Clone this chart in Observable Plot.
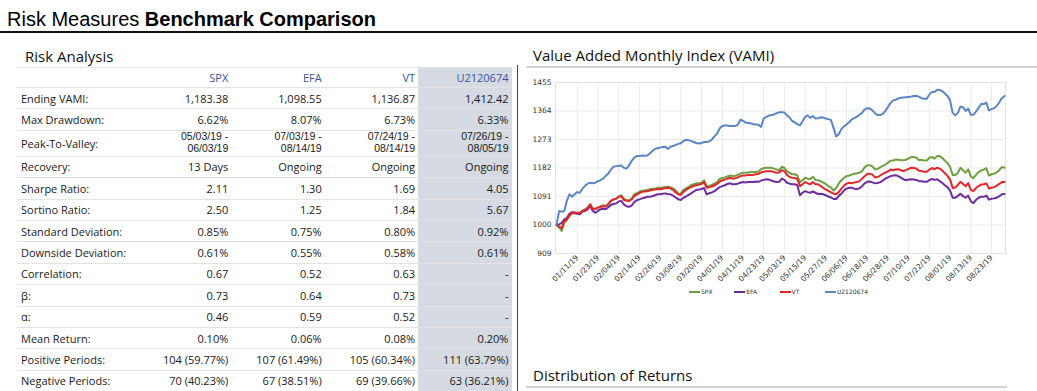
<!DOCTYPE html>
<html><head><meta charset="utf-8">
<script src="https://cdn.jsdelivr.net/npm/d3@7"></script>
<script src="https://cdn.jsdelivr.net/npm/@observablehq/plot@0.6"></script>
<style>
html,body{margin:0;padding:0;width:1037px;height:391px;overflow:hidden;background:#fff;font-family:"Open Sans",sans-serif;}
.abs{position:absolute;}
#title{left:7px;top:7px;font-family:"Liberation Sans",Arial,sans-serif;font-size:20px;line-height:24px;color:#000;white-space:nowrap;}
#rule{left:0;top:31px;width:1037px;height:2px;background:#111;}
.h2{font-size:15px;line-height:20px;color:#111;white-space:nowrap;}
#tbl{left:17px;top:67px;width:495px;border-top:1px solid #e3e3e3;font-size:11px;color:#1a1a1a;}
.row{display:flex;box-sizing:border-box;border-bottom:1px solid #e3e3e3;}
.cell{display:flex;align-items:center;box-sizing:border-box;}
.lab{width:121.3px;padding-left:4px;}
.val{width:93.4px;justify-content:flex-end;padding-right:3.4px;text-align:right;}
.hl{background:#d5dae3;}
.hdr .val{color:#34559a;}
.two{display:flex;flex-direction:column;align-items:flex-end;}
.ln{height:11.8px;line-height:11.8px;font-family:"Liberation Sans",Arial,sans-serif;font-size:10.5px;white-space:nowrap;}
#legend{left:689px;top:288px;display:flex;font-family:"DejaVu Sans",sans-serif;font-size:6px;color:#333;}
.li{width:45.3px;display:flex;align-items:center;white-space:nowrap;}
.sw{width:11px;height:2px;margin-right:1px;}
</style></head>
<body>
<div id="title" class="abs">Risk Measures <b>Benchmark Comparison</b></div>
<div id="rule" class="abs"></div>
<div class="abs h2" style="left:25px;top:46px;">Risk Analysis</div>
<div class="abs h2" style="left:533px;top:45px;">Value Added Monthly Index (VAMI)</div>
<div class="abs" style="left:526px;top:66px;width:511px;height:1.5px;background:#d2d2d2;"></div>
<div class="abs h2" style="left:533px;top:365px;">Distribution of Returns</div>
<div class="abs" style="left:526px;top:386px;width:481px;height:1.5px;background:#d2d2d2;"></div>
<div class="abs" style="left:517px;top:65px;width:1px;height:326px;background:#444;"></div>
<div id="tbl" class="abs"></div>
<div id="chart" class="abs" style="left:520px;top:70px;"></div>
<div id="legend" class="abs"></div>
<script>
// ---- Table data ----
const columns = ["SPX", "EFA", "VT", "U2120674"];
const rowLabels = ["Ending VAMI:", "Max Drawdown:", "Peak-To-Valley:", "Recovery:", "Sharpe Ratio:", "Sortino Ratio:", "Standard Deviation:", "Downside Deviation:", "Correlation:", "β:", "α:", "Mean Return:", "Positive Periods:", "Negative Periods:"];
const spxStats = ["1,183.38", "6.62%", "05/03/19 -\n06/03/19", "13 Days", "2.11", "2.50", "0.85%", "0.61%", "0.67", "0.73", "0.46", "0.10%", "104 (59.77%)", "70 (40.23%)"];
const efaStats = ["1,098.55", "8.07%", "07/03/19 -\n08/14/19", "Ongoing", "1.30", "1.25", "0.75%", "0.55%", "0.52", "0.64", "0.59", "0.06%", "107 (61.49%)", "67 (38.51%)"];
const vtStats = ["1,136.87", "6.73%", "07/24/19 -\n08/14/19", "Ongoing", "1.69", "1.84", "0.80%", "0.58%", "0.63", "0.73", "0.52", "0.08%", "105 (60.34%)", "69 (39.66%)"];
const uStats = ["1,412.42", "6.33%", "07/26/19 -\n08/05/19", "Ongoing", "4.05", "5.67", "0.92%", "0.61%", "-", "-", "-", "0.20%", "111 (63.79%)", "63 (36.21%)"];

// ---- Chart data (weekday index 0 = 01/01/19) ----
const seriesNames = ["SPX", "EFA", "VT", "U2120674"];
const seriesColors = ["#6f9f40", "#6f2c9f", "#e2262b", "#5b86c4"];
const yTicks = [909, 1000, 1091, 1182, 1273, 1364, 1455];
const tickIndex = [8,16,24,32,40,48,56,64,72,80,88,96,104,112,120,128,136,144,152,160,168];
const tickLabels = ["01/11/19","01/23/19","02/04/19","02/14/19","02/26/19","03/08/19","03/20/19","04/01/19","04/11/19","04/23/19","05/03/19","05/15/19","05/27/19","06/06/19","06/18/19","06/28/19","07/10/19","07/22/19","08/01/19","08/13/19","08/23/19"];
const spx = [1000,992,981,1007,1016,1029,1037,1039,1038,1037,
1045,1050,1056,1066,1052,1052,1055,1060,1063,1061,
1066,1076,1081,1084,1090,1095,1084,1080,1078,1084,
1098,1102,1106,1109,1110,1112,1114,1116,1116,1119,
1119,1120,1121,1123,1120,1117,1110,1101,1100,1112,
1117,1122,1127,1130,1133,1133,1135,1143,1124,1125,
1128,1132,1137,1147,1150,1152,1155,1158,1156,1157,
1160,1164,1167,1167,1168,1169,1169,1169,1171,1178,
1181,1183,1183,1183,1180,1177,1175,1186,1182,1172,
1166,1162,1162,1158,1137,1143,1151,1148,1147,1154,
1144,1143,1140,1135,1131,1124,1120,1110,1118,1132,
1143,1150,1156,1158,1161,1164,1165,1167,1172,1184,
1191,1191,1187,1178,1179,1184,1189,1193,1199,1205,
1206,1209,1208,1207,1207,1208,1213,1217,1217,1215,
1207,1208,1206,1206,1215,1217,1212,1220,1220,1214,
1205,1198,1185,1160,1160,1166,1183,1174,1167,1178,
1155,1150,1160,1169,1174,1177,1182,1158,1162,1164,
1168,1175,1185,1183];
const efa = [1000,1002,1007,1018,1023,1036,1041,1040,1036,1034,
1043,1045,1050,1060,1045,1039,1045,1050,1052,1050,
1057,1064,1067,1069,1075,1077,1066,1060,1058,1062,
1073,1079,1082,1085,1087,1090,1090,1092,1095,1098,
1098,1100,1101,1099,1098,1094,1088,1082,1080,1087,
1091,1096,1101,1107,1112,1113,1115,1118,1098,1102,
1104,1108,1114,1121,1124,1127,1131,1133,1130,1130,
1132,1135,1137,1136,1137,1137,1137,1139,1138,1142,
1144,1146,1145,1142,1139,1137,1138,1148,1144,1135,
1132,1130,1130,1127,1095,1103,1108,1105,1103,1107,
1103,1099,1100,1098,1095,1091,1088,1083,1083,1093,
1100,1110,1116,1119,1119,1116,1115,1117,1124,1133,
1138,1139,1136,1133,1134,1137,1142,1148,1152,1156,
1158,1159,1156,1151,1146,1143,1145,1146,1145,1144,
1140,1140,1138,1138,1143,1147,1144,1146,1140,1134,
1127,1121,1110,1087,1087,1093,1100,1092,1087,1094,
1076,1070,1080,1087,1090,1090,1094,1081,1084,1085,
1087,1092,1098,1099];
const vt = [1000,995,990,1013,1018,1031,1039,1037,1039,1039,
1045,1048,1053,1066,1050,1052,1055,1058,1059,1059,
1067,1078,1082,1084,1090,1092,1080,1078,1077,1082,
1092,1097,1102,1106,1107,1108,1110,1112,1113,1115,
1114,1116,1118,1119,1117,1112,1104,1098,1096,1106,
1112,1117,1121,1125,1127,1129,1131,1136,1119,1121,
1123,1127,1131,1139,1142,1145,1148,1151,1148,1149,
1152,1156,1158,1158,1160,1160,1160,1162,1163,1168,
1170,1172,1172,1172,1169,1167,1168,1175,1172,1160,
1153,1151,1150,1147,1124,1130,1137,1133,1130,1137,
1130,1130,1125,1118,1114,1109,1104,1100,1098,1105,
1116,1125,1132,1135,1133,1136,1137,1140,1148,1156,
1163,1164,1161,1152,1153,1158,1163,1167,1171,1177,
1175,1177,1178,1175,1172,1176,1179,1183,1182,1180,
1173,1172,1170,1170,1177,1182,1178,1183,1180,1174,
1165,1157,1145,1118,1120,1128,1138,1131,1124,1134,
1112,1108,1118,1124,1129,1130,1133,1116,1119,1121,
1126,1131,1137,1137];
const u2120674 = [1000,1045,1042,1045,1078,1098,1090,1098,1105,1103,
1116,1125,1132,1135,1133,1135,1140,1143,1148,1157,
1164,1177,1186,1188,1189,1190,1183,1180,1190,1205,
1215,1220,1220,1222,1221,1222,1228,1236,1243,1245,
1247,1249,1250,1243,1250,1252,1256,1259,1261,1268,
1272,1271,1268,1265,1262,1260,1262,1265,1265,1267,
1273,1283,1292,1308,1316,1318,1318,1316,1316,1316,
1320,1336,1333,1327,1326,1325,1322,1321,1320,1313,
1340,1345,1349,1351,1353,1357,1360,1360,1359,1350,
1343,1332,1328,1322,1318,1331,1345,1350,1342,1348,
1340,1341,1344,1343,1340,1338,1335,1310,1283,1290,
1306,1315,1321,1328,1337,1341,1346,1352,1358,1369,
1373,1372,1366,1357,1351,1351,1355,1364,1377,1390,
1398,1400,1404,1406,1407,1408,1409,1410,1412,1413,
1409,1405,1403,1403,1417,1425,1425,1432,1431,1427,
1420,1412,1398,1358,1350,1358,1378,1376,1364,1372,
1352,1352,1362,1374,1386,1386,1391,1366,1370,1373,
1380,1392,1405,1412];
const seriesValues = [spx, efa, vt, u2120674];

// ---- Build table ----
const tbl = document.getElementById("tbl");
function addRow(label, vals, h, cls) {
  const r = document.createElement("div");
  r.className = "row " + (cls || "");
  r.style.height = h + "px";
  const l = document.createElement("div");
  l.className = "cell lab"; l.textContent = label; r.appendChild(l);
  vals.forEach((v, k) => {
    const c = document.createElement("div");
    c.className = "cell val" + (k === 3 ? " hl" : "");
    if (v.includes("\n")) {
      const s = document.createElement("div"); s.className = "two";
      v.split("\n").forEach(part => {
        const d = document.createElement("div"); d.className = "ln"; d.textContent = part; s.appendChild(d);
      });
      c.appendChild(s);
    } else c.textContent = v;
    r.appendChild(c);
  });
  tbl.appendChild(r);
}
addRow("", columns, 20, "hdr");
rowLabels.forEach((lab, j) => {
  addRow(lab, [spxStats[j], efaStats[j], vtStats[j], uStats[j]], lab === "Peak-To-Valley:" ? 26 : 21.4);
});

// ---- Chart ----
const data = [];
seriesNames.forEach((name, s) => seriesValues[s].forEach((v, i) => data.push({series: name, i, v})));
const chart = Plot.plot({
  width: 500, height: 222,
  marginLeft: 35, marginRight: 15, marginTop: 12, marginBottom: 39,
  style: {fontFamily: "DejaVu Sans, sans-serif", fontSize: "7.5px", color: "#333", background: "transparent", overflow: "visible"},
  x: {domain: [-0.4, 173.4], ticks: tickIndex, tickFormat: d => tickLabels[tickIndex.indexOf(d)], tickRotate: -45, tickSize: 0, tickPadding: 3, label: null},
  y: {domain: [909, 1455], ticks: yTicks, tickFormat: d => String(d), tickSize: 0, tickPadding: 4, label: null},
  color: {domain: seriesNames, range: seriesColors},
  marks: [
    Plot.gridX(tickIndex, {stroke: "#ebebeb", strokeOpacity: 1}),
    Plot.gridY(yTicks, {stroke: "#ebebeb", strokeOpacity: 1}),
    Plot.frame({stroke: "#e2e2e2"}),
    Plot.line(data, {x: "i", y: "v", z: "series", stroke: "series", strokeWidth: 2})
  ]
});
document.getElementById("chart").appendChild(chart);

// ---- Legend ----
const lg = document.getElementById("legend");
seriesNames.forEach((n, k) => {
  const it = document.createElement("div"); it.className = "li";
  const sw = document.createElement("span"); sw.className = "sw"; sw.style.background = seriesColors[k];
  const tx = document.createElement("span"); tx.textContent = n;
  it.appendChild(sw); it.appendChild(tx); lg.appendChild(it);
});
</script>
</body></html>
